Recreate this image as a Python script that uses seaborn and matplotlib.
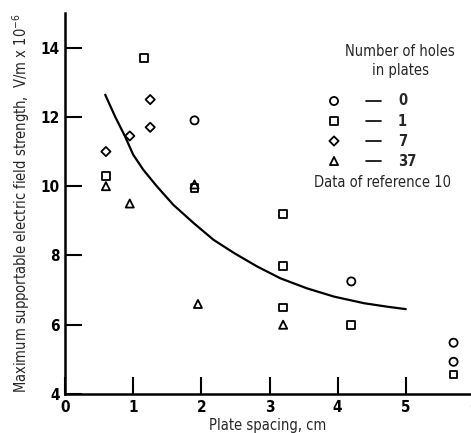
import matplotlib
matplotlib.use("Agg")
import matplotlib.pyplot as plt
import seaborn as sns
import pandas as pd

# Breakdown field strength measurements, grouped by number of holes in the plates
holes_0_x = [1.9, 4.2, 5.7, 5.7]
holes_0_y = [11.9, 7.25, 5.48, 4.93]

holes_1_x = [0.6, 1.16, 1.9, 3.2, 3.2, 3.2, 4.2, 5.7]
holes_1_y = [10.3, 13.7, 9.95, 9.2, 7.7, 6.5, 6.0, 4.56]

holes_7_x = [0.6, 0.95, 1.25, 1.25]
holes_7_y = [11.0, 11.45, 12.5, 11.7]

holes_37_x = [0.6, 0.95, 1.9, 1.95, 3.2]
holes_37_y = [10.0, 9.5, 10.05, 6.6, 6.0]

# Reference curve (data of reference 10)
curve_x = [0.59, 0.735, 0.88, 1.0, 1.15, 1.35, 1.59, 1.89, 2.18, 2.48,
           2.82, 3.16, 3.55, 3.95, 4.39, 4.73, 5.0]
curve_y = [12.64, 12.01, 11.44, 10.91, 10.47, 9.99, 9.46, 8.93, 8.45, 8.07,
           7.68, 7.34, 7.05, 6.81, 6.62, 6.52, 6.45]

hole_labels = ["0", "1", "7", "37"]
hole_markers = ["o", "s", "D", "^"]
marker_sizes = [34, 30, 22, 34]

x_ticks = [0, 1, 2, 3, 4, 5, 6]
y_ticks = [4, 6, 8, 10, 12, 14]

groups = [(holes_0_x, holes_0_y), (holes_1_x, holes_1_y),
          (holes_7_x, holes_7_y), (holes_37_x, holes_37_y)]

sns.set_theme(style="ticks")
plt.rcParams["font.family"] = ["DejaVu Sans"]
plt.rcParams["font.stretch"] = "condensed"

fig = plt.figure(figsize=(4.71, 4.33), dpi=100)
ax = fig.add_axes([65 / 471, 39 / 433, 409 / 471, 381 / 433])

curve_df = pd.DataFrame({"x": curve_x, "y": curve_y})
sns.lineplot(data=curve_df, x="x", y="y", ax=ax, color="black", lw=1.6,
             sort=False, estimator=None)

for (gx, gy), mk, sz in zip(groups, hole_markers, marker_sizes):
    df = pd.DataFrame({"x": gx, "y": gy})
    sns.scatterplot(data=df, x="x", y="y", ax=ax, marker=mk, s=sz,
                    facecolor="none", edgecolor="black", linewidth=1.3,
                    zorder=3)

ax.set_xlim(0, 6)
ax.set_ylim(4, 15.0)
ax.set_xticks(x_ticks)
ax.set_yticks(y_ticks)
ax.set_xticklabels([str(t) for t in x_ticks], fontsize=11, fontweight="bold")
ax.set_yticklabels([str(t) for t in y_ticks], fontsize=11, fontweight="bold")
ax.tick_params(direction="in", length=12, width=1.5, colors="black", pad=4)
ax.tick_params(axis="x", pad=4)
sns.despine(ax=ax)
for side in ("left", "bottom"):
    ax.spines[side].set_linewidth(1.8)
    ax.spines[side].set_color("black")

ax.set_xlabel("Plate spacing, cm", fontsize=10.5, labelpad=1)
ax.set_ylabel(r"Maximum supportable electric field strength,  V/m x 10$^{-6}$",
              fontsize=10.5, labelpad=6)
ax.xaxis.set_label_coords((268 - 65) / 409, -0.062)

# Legend block
def fx(px):
    return (px - 65) / 409

def fy(py):
    return (394 - py) / 381

tr = ax.transAxes
ax.text(fx(400), fy(52), "Number of holes", transform=tr, ha="center",
        va="center", fontsize=10.5)
ax.text(fx(400), fy(71), "in plates", transform=tr, ha="center",
        va="center", fontsize=10.5)
row_y = [101, 121, 141, 161]
for ry, mk, sz, lab in zip(row_y, hole_markers, marker_sizes, hole_labels):
    ax.scatter([fx(334)], [fy(ry)], transform=tr, marker=mk, s=sz,
               facecolor="none", edgecolor="black", linewidth=1.3,
               clip_on=False)
    ax.plot([fx(366), fx(381)], [fy(ry), fy(ry)], transform=tr,
            color="black", lw=1.2)
    ax.text(fx(398), fy(ry), lab, transform=tr, ha="left", va="center",
            fontsize=10.5, fontweight="bold")
ax.text(fx(382), fy(183), "Data of reference 10", transform=tr,
        ha="center", va="center", fontsize=10.5)

fig.savefig("out.png", dpi=100)
